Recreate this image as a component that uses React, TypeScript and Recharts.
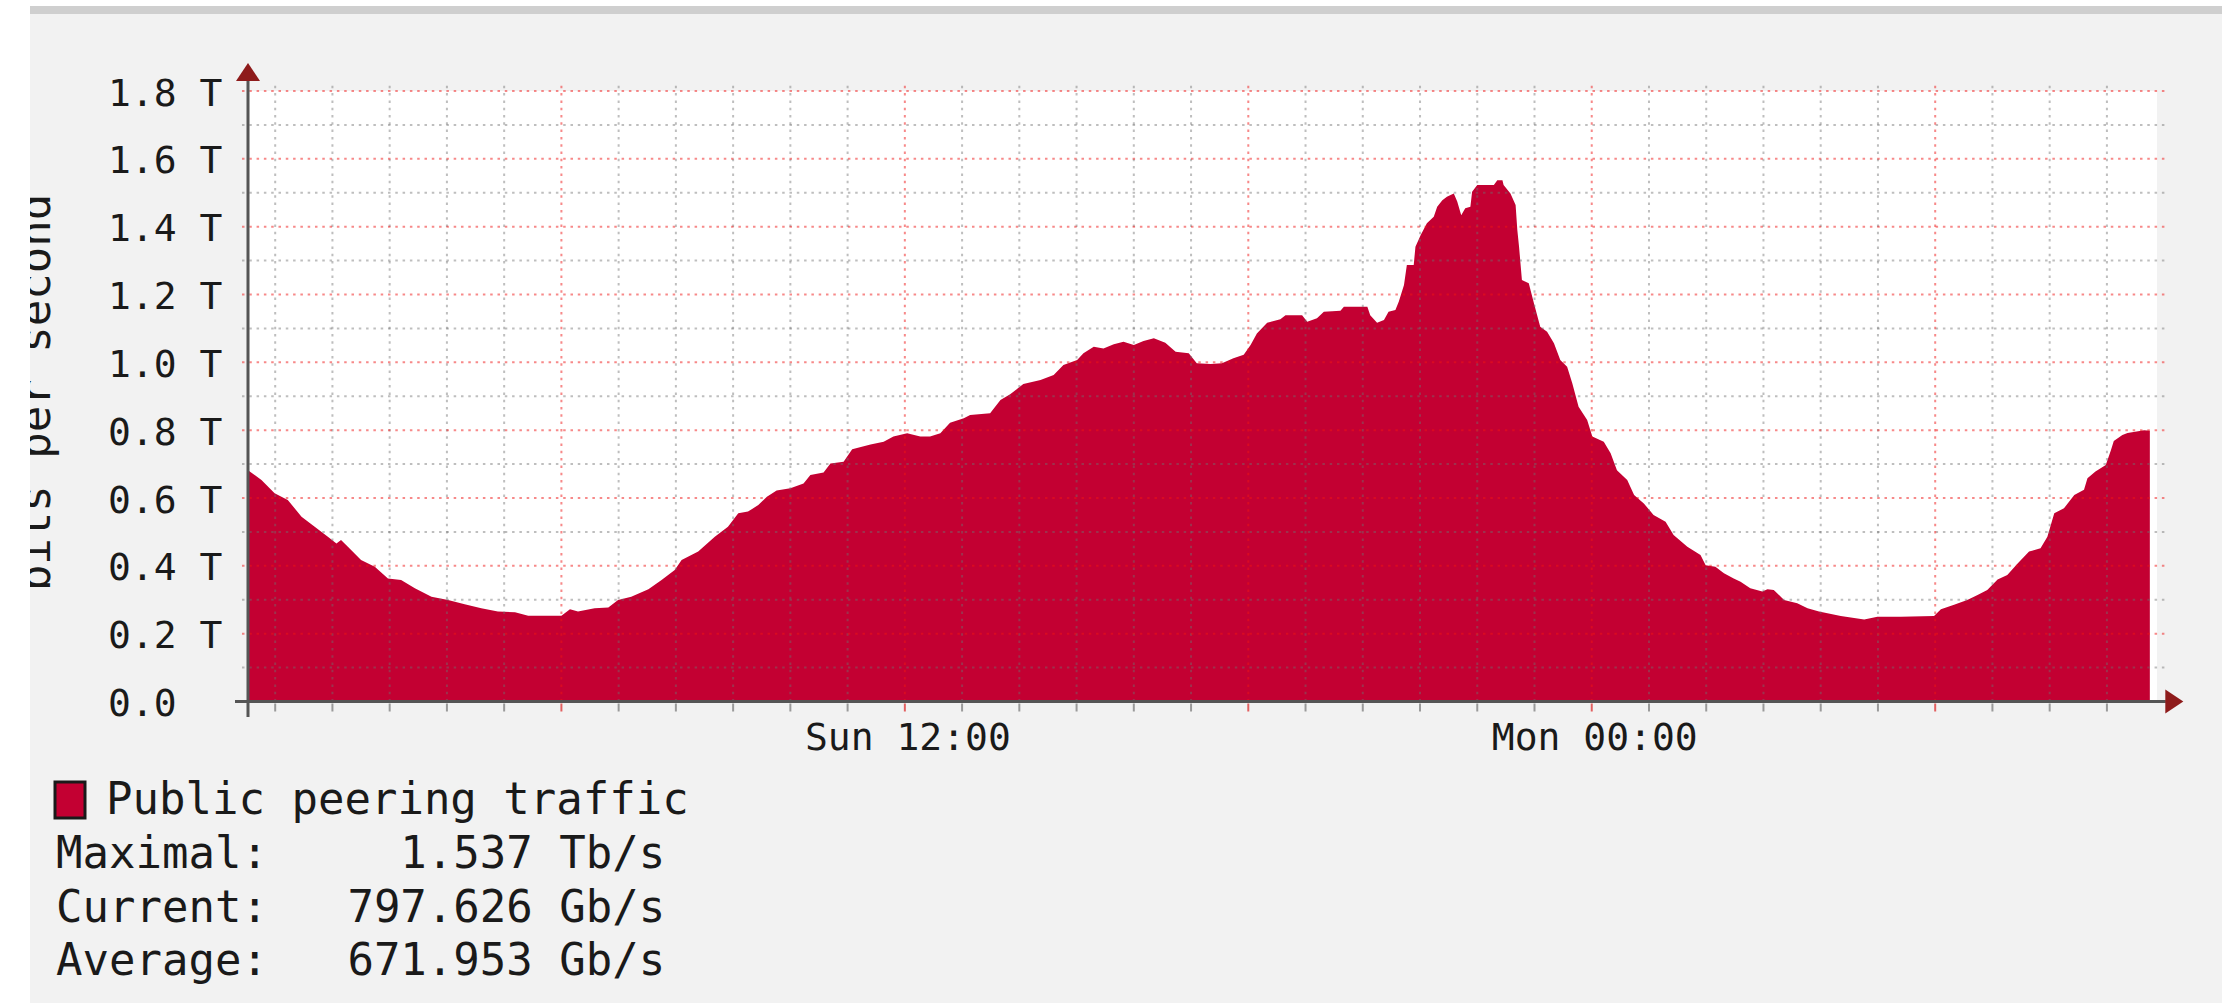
import React from 'react';
import { AreaChart, Area, XAxis, YAxis, CartesianGrid, ReferenceLine, ReferenceDot } from 'recharts';

// hours since Sun 00:00
const hours = [
  0.525, 0.76, 0.99, 1.22, 1.46, 1.69, 1.92, 2.07, 2.15, 2.27, 2.5, 2.74, 2.97, 3.2, 3.44, 3.73,
  4.02, 4.31, 4.6, 4.89, 5.19, 5.42, 5.77, 6.0, 6.15, 6.29, 6.58, 6.82, 6.99, 7.22, 7.52, 7.75,
  7.98, 8.1, 8.39, 8.68, 8.91, 9.09, 9.26, 9.44, 9.59, 9.76, 10.0, 10.23, 10.35, 10.58, 10.7,
  10.93, 11.08, 11.4, 11.63, 11.8, 12.04, 12.27, 12.44, 12.62, 12.79, 13.03, 13.14, 13.49, 13.67,
  13.84, 14.07, 14.37, 14.6, 14.77, 15.01, 15.12, 15.3, 15.47, 15.65, 15.82, 16.0, 16.17, 16.35,
  16.55, 16.73, 16.96, 17.1, 17.34, 17.54, 17.74, 17.92, 18.04, 18.15, 18.33, 18.56, 18.65, 18.94,
  19.03, 19.2, 19.32, 19.61, 19.67, 20.08, 20.13, 20.25, 20.37, 20.45, 20.57, 20.63, 20.72, 20.77,
  20.89, 20.92, 21.01, 21.12, 21.24, 21.3, 21.39, 21.47, 21.59, 21.65, 21.72, 21.79, 21.88, 21.91,
  22.0, 22.29, 22.35, 22.44, 22.46, 22.58, 22.67, 22.7, 22.73, 22.78, 22.9, 22.99, 23.1, 23.22,
  23.34, 23.45, 23.57, 23.66, 23.77, 23.92, 24.01, 24.21, 24.33, 24.44, 24.62, 24.74, 24.91, 25.08,
  25.29, 25.43, 25.67, 25.9, 25.99, 26.16, 26.31, 26.48, 26.6, 26.77, 26.98, 27.07, 27.18, 27.36,
  27.59, 27.77, 27.97, 28.35, 28.76, 28.99, 29.4, 29.98, 30.1, 30.33, 30.56, 30.74, 30.91, 31.09,
  31.26, 31.44, 31.64, 31.84, 31.96, 32.08, 32.25, 32.43, 32.6, 32.66, 32.8, 32.98, 33.07, 33.12,
  33.27, 33.36, 33.65, 33.75,
];

// Tb/s
const traffic = [
  0.682, 0.653, 0.614, 0.594, 0.545, 0.515, 0.486, 0.466, 0.476, 0.456, 0.417, 0.397, 0.363, 0.358, 0.334, 0.309,
  0.299, 0.287, 0.275, 0.265, 0.263, 0.253, 0.253, 0.253, 0.272, 0.265, 0.275, 0.277, 0.299, 0.309, 0.331, 0.358,
  0.388, 0.417, 0.442, 0.486, 0.515, 0.555, 0.56, 0.579, 0.604, 0.622, 0.629, 0.643, 0.668, 0.675, 0.702,
  0.707, 0.744, 0.758, 0.766, 0.781, 0.791, 0.781, 0.781, 0.791, 0.822, 0.835, 0.845, 0.85, 0.889,
  0.906, 0.936, 0.948, 0.963, 0.992, 1.007, 1.027, 1.046, 1.041, 1.053, 1.061, 1.051, 1.063, 1.071,
  1.058, 1.031, 1.027, 0.997, 0.995, 0.997, 1.012, 1.022, 1.051, 1.085, 1.117, 1.127, 1.139, 1.139,
  1.12, 1.13, 1.149, 1.152, 1.164, 1.164, 1.139, 1.117, 1.125, 1.149, 1.154, 1.179, 1.228, 1.287,
  1.287, 1.341, 1.375, 1.41, 1.429, 1.459, 1.478, 1.488, 1.498, 1.474, 1.434, 1.454, 1.459, 1.503,
  1.523, 1.523, 1.537, 1.537, 1.523, 1.498, 1.464, 1.39, 1.341, 1.243, 1.233, 1.174, 1.105, 1.09,
  1.056, 1.007, 0.987, 0.938, 0.869, 0.83, 0.781, 0.766, 0.732, 0.682, 0.653, 0.609, 0.584, 0.55,
  0.53, 0.491, 0.456, 0.432, 0.402, 0.397, 0.378, 0.363, 0.353, 0.334, 0.324, 0.331, 0.329, 0.299,
  0.29, 0.275, 0.265, 0.252, 0.242, 0.25, 0.25, 0.252, 0.272, 0.285, 0.299, 0.314, 0.329, 0.36,
  0.373, 0.407, 0.442, 0.452, 0.486, 0.555, 0.57, 0.609, 0.624, 0.658, 0.678, 0.697, 0.741, 0.768,
  0.786, 0.792, 0.8, 0.798,
];

const yTicks = [0, 0.2, 0.4, 0.6, 0.8, 1.0, 1.2, 1.4, 1.6, 1.8];
const yMajorGrid = [0.2, 0.4, 0.6, 0.8, 1.0, 1.2, 1.4, 1.6, 1.8];
const yMinorGrid = [0.1, 0.3, 0.5, 0.7, 0.9, 1.1, 1.3, 1.5, 1.7];
const hourTicks = [1, 2, 3, 4, 5, 6, 7, 8, 9, 10, 11, 12, 13, 14, 15, 16, 17, 18, 19, 20, 21, 22, 23, 24, 25, 26, 27, 28, 29, 30, 31, 32, 33];
const majorHours = [6, 12, 18, 24, 30];
const xLabelHours = [12, 24];
const xLabelTexts = ['Sun 12:00', 'Mon 00:00'];

const legendTitle = 'Public peering traffic';
const statLabels = ['Maximal:', 'Current:', 'Average:'];
const statValues = ['1.537 Tb/s', '797.626 Gb/s', '671.953 Gb/s'];
const yAxisTitle = 'bits per second';

const X_DOMAIN: [number, number] = [0.525, 33.875];
const FILL = '#c30032';
const MONO = '"DejaVu Sans Mono", "Liberation Mono", monospace';
const RED_GRID = 'rgba(240, 20, 20, 0.5)';
const GRAY_GRID = 'rgba(110, 110, 110, 0.45)';

const data = hours.map((h, i) => ({ h, v: traffic[i] }));

const XTick = (props: any) => {
  const { x, y, payload } = props;
  const v = payload.value;
  const major = majorHours.indexOf(v) >= 0;
  const idx = xLabelHours.indexOf(v);
  return (
    <g>
      <line x1={x} x2={x} y1={y + 2} y2={y + 10} stroke={major ? '#e26060' : '#9a9a9a'} strokeWidth={2} />
      {idx >= 0 && (
        <text x={x + 3} y={y + 48.5} textAnchor="middle" fontFamily={MONO} fontSize={38} fill="#1a1a1a">
          {xLabelTexts[idx]}
        </text>
      )}
    </g>
  );
};

const YTick = (props: any) => {
  const { x, y, payload } = props;
  const v = payload.value;
  const label = v === 0 ? '0.0' : `${v.toFixed(1)} T`;
  return (
    <text x={x} y={y + 14.5} textAnchor="start" fontFamily={MONO} fontSize={38} fill="#1a1a1a">
      {label}
    </text>
  );
};

const UpArrow = (props: any) => {
  const { cx, cy } = props;
  return <polygon points={`${cx - 12},${cy} ${cx + 12},${cy} ${cx},${cy - 18}`} fill="#8e1b1b" />;
};

const RightArrow = (props: any) => {
  const { cx, cy } = props;
  return <polygon points={`${cx},${cy - 12} ${cx},${cy + 12} ${cx + 18},${cy}`} fill="#8e1b1b" />;
};

const gridLeft = 0.42;
const gridRight = 34.02;
const gridTop = 1.824;

export default function App() {
  return (
    <div style={{ position: 'absolute', left: 0, top: 0, width: 2222, height: 1003, background: '#f2f2f2', overflow: 'hidden' }}>
      <AreaChart width={2222} height={1003} data={data} margin={{ top: 91, right: 65, bottom: 0, left: 0 }}>
        <CartesianGrid horizontal={false} vertical={false} fill="#ffffff" stroke="none" />
        <XAxis
          dataKey="h"
          type="number"
          domain={X_DOMAIN}
          allowDataOverflow
          ticks={hourTicks}
          interval={0}
          height={301.5}
          tickLine={false}
          axisLine={false}
          tickSize={0}
          tickMargin={0}
          tick={(p: any) => <XTick {...p} />}
        />
        <YAxis
          type="number"
          domain={[0, 1.8]}
          allowDataOverflow
          ticks={yTicks}
          interval={0}
          width={248}
          tickLine={false}
          axisLine={false}
          tickSize={0}
          tickMargin={140}
          tick={(p: any) => <YTick {...p} />}
        />
        <Area
          dataKey="v"
          type="linear"
          fill={FILL}
          fillOpacity={1}
          stroke="none"
          isAnimationActive={false}
          dot={false}
          activeDot={false}
        />
        {yMinorGrid.map((v) => (
          <ReferenceLine
            key={`ym${v}`}
            segment={[{ x: gridLeft, y: v }, { x: gridRight, y: v }]}
            stroke={GRAY_GRID}
            strokeWidth={2}
            strokeDasharray="2.5 4.8"
            ifOverflow="visible"
            zIndex={600}
          />
        ))}
        {hourTicks.filter((h) => majorHours.indexOf(h) < 0).map((h) => (
          <ReferenceLine
            key={`xm${h}`}
            segment={[{ x: h, y: 0 }, { x: h, y: gridTop }]}
            stroke={GRAY_GRID}
            strokeWidth={2}
            strokeDasharray="2.5 4.8"
            ifOverflow="visible"
            zIndex={600}
          />
        ))}
        {yMajorGrid.map((v) => (
          <ReferenceLine
            key={`yM${v}`}
            segment={[{ x: gridLeft, y: v }, { x: gridRight, y: v }]}
            stroke={RED_GRID}
            strokeWidth={2}
            strokeDasharray="2.5 4.8"
            ifOverflow="visible"
            zIndex={610}
          />
        ))}
        {majorHours.map((h) => (
          <ReferenceLine
            key={`xM${h}`}
            segment={[{ x: h, y: 0 }, { x: h, y: gridTop }]}
            stroke={RED_GRID}
            strokeWidth={2}
            strokeDasharray="2.5 4.8"
            ifOverflow="visible"
            zIndex={610}
          />
        ))}
        <ReferenceLine
          segment={[{ x: 0.298, y: 0 }, { x: 34.03, y: 0 }]}
          stroke="#555555"
          strokeWidth={3}
          ifOverflow="visible"
          zIndex={700}
        />
        <ReferenceLine
          segment={[{ x: X_DOMAIN[0], y: -0.046 }, { x: X_DOMAIN[0], y: 1.8295 }]}
          stroke="#555555"
          strokeWidth={3}
          ifOverflow="visible"
          zIndex={700}
        />
        <ReferenceDot x={34.02} y={0} r={1} ifOverflow="visible" shape={(p: any) => <RightArrow {...p} />} zIndex={710} />
        <ReferenceDot x={X_DOMAIN[0]} y={1.8295} r={1} ifOverflow="visible" shape={(p: any) => <UpArrow {...p} />} zIndex={710} />
      </AreaChart>

      <svg
        width={2222}
        height={1003}
        style={{ position: 'absolute', left: 0, top: 0, pointerEvents: 'none' }}
      >
        <text
          x={50}
          y={392.5}
          transform="rotate(-90 50 392.5)"
          textAnchor="middle"
          fontFamily={MONO}
          fontSize={44}
          fill="#1a1a1a"
        >
          {yAxisTitle}
        </text>
        <rect x={0} y={0} width={30} height={1003} fill="#ffffff" />
        <rect x={30} y={0} width={2192} height={6} fill="#ffffff" />
        <rect x={30} y={6} width={2192} height={8} fill="#cfcfcf" />

        <rect x={55} y={782} width={30} height={36} fill={FILL} stroke="#1a1a1a" strokeWidth={3} />
        <text x={106} y={814} fontFamily={MONO} fontSize={44} fill="#1a1a1a">
          {legendTitle}
        </text>
        {statLabels.map((lab, i) => (
          <text
            key={lab}
            x={56}
            y={868 + i * 53.6}
            fontFamily={MONO}
            fontSize={44}
            fill="#1a1a1a"
            xmlSpace="preserve"
            style={{ whiteSpace: 'pre' }}
          >
            {lab.padEnd(8, ' ') + statValues[i].padStart(15, ' ')}
          </text>
        ))}
      </svg>
    </div>
  );
}
